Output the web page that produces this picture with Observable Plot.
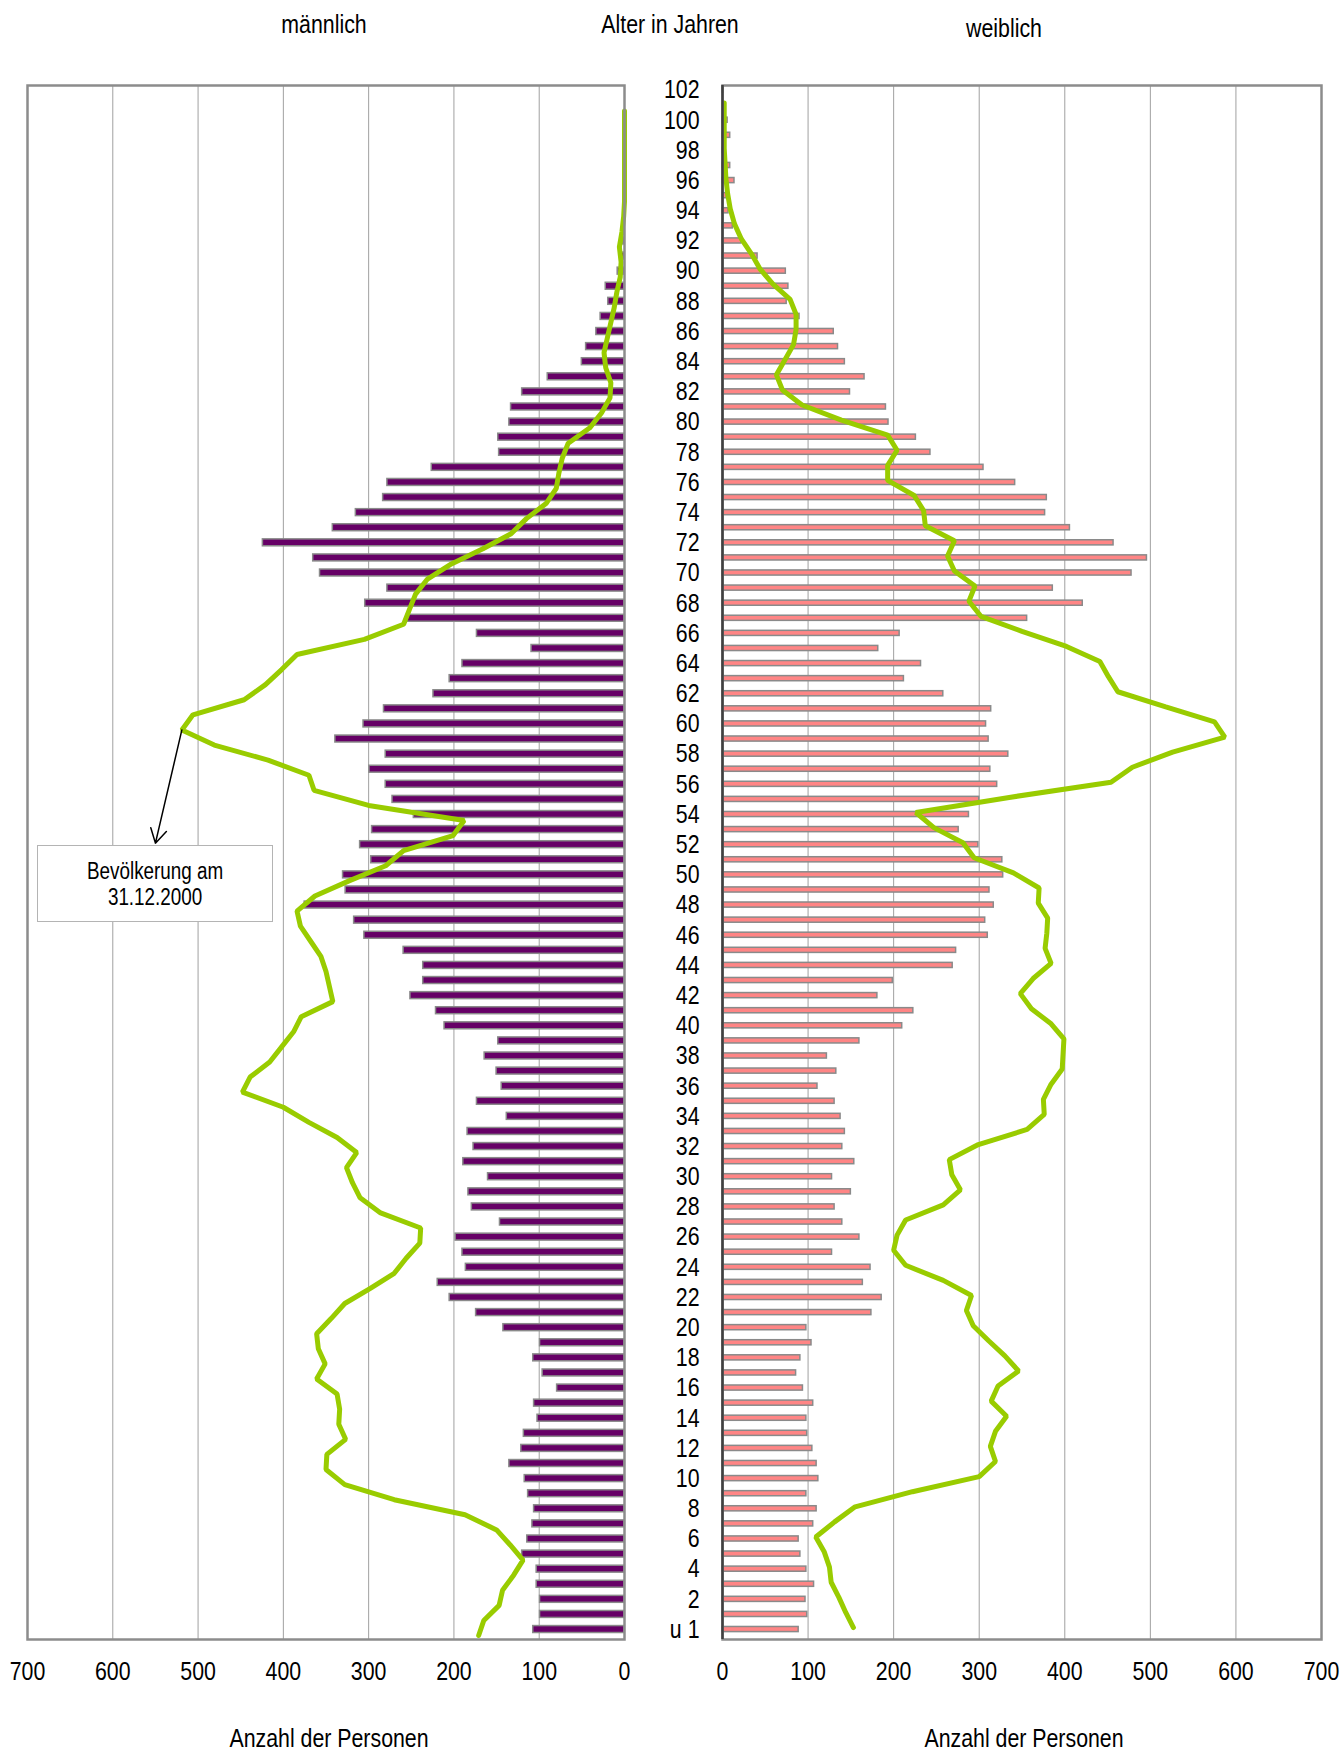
<!DOCTYPE html>
<html><head><meta charset="utf-8">
<script src="https://cdn.jsdelivr.net/npm/d3@7"></script>
<script src="https://cdn.jsdelivr.net/npm/@observablehq/plot@0.6"></script>
<style>
html,body{margin:0;padding:0;background:#fff;}
#wrap{position:relative;width:1344px;height:1752px;overflow:hidden;
  font-family:"Liberation Sans",Arial,sans-serif;color:#000;}
.lbl{position:absolute;font-size:26px;line-height:1;white-space:nowrap;transform:translateX(-50%) scaleX(0.82);}
.plot{position:absolute;top:0;}
#note{position:absolute;left:37px;top:845px;width:236px;height:77px;border:1.5px solid #b4b4b4;background:#fff;
  font-size:23px;line-height:26px;text-align:center;box-sizing:border-box;padding-top:12px;}
#note span{display:inline-block;transform:scaleX(0.82);}
</style></head><body>
<div id="wrap">
  <div class="lbl" style="left:324px;top:11px">männlich</div>
  <div class="lbl" style="left:670px;top:11px">Alter in Jahren</div>
  <div class="lbl" style="left:1004px;top:15px">weiblich</div>
  <div id="left" class="plot" style="left:0px"></div>
  <div id="right" class="plot" style="left:640px"></div>
  <div class="lbl" style="left:329px;top:1725px">Anzahl der Personen</div>
  <div class="lbl" style="left:1024px;top:1725px">Anzahl der Personen</div>
  <div id="note"><span>Bevölkerung am<br>31.12.2000</span></div>
</div>
<script>
// ages 0 ("u 1") .. 102
const ages = d3.range(0, 103);
const ageTicks = d3.range(0, 103, 2);
const countTicks = [0, 100, 200, 300, 400, 500, 600, 700];

// bars: male (index = age)
const male = [107,99,99,103,103,120,114,108,106,113,
  117,135,121,118,102,106,79,96,107,99,
  142,174,205,219,186,190,198,146,179,183,
  160,189,177,184,138,173,144,150,164,148,
  211,221,251,236,236,259,305,317,375,327,
  330,297,310,296,247,272,280,299,280,339,
  306,282,224,205,190,109,173,255,304,278,
  357,365,424,342,315,283,278,226,147,148,
  135,133,120,90,50,45,33,28,19,22,
  8,3,2,1,0,0,0,0,0,0,
  0,0,0];
// bars: female
const female = [89,99,97,107,98,91,89,106,110,98,
  112,110,105,99,98,106,94,86,91,104,
  98,174,186,164,173,128,160,140,131,150,
  128,154,140,143,138,131,111,133,122,160,
  210,223,181,199,269,273,310,307,317,312,
  328,327,299,276,288,300,321,313,334,311,
  308,314,258,212,232,182,207,356,421,386,
  478,496,457,406,377,379,342,305,243,226,
  194,191,149,166,143,135,130,90,75,77,
  74,41,22,12,7,5,14,9,1,9,
  6,0,1];
// line: population on 31.12.2000, male
const maleTotal = [171,165,147,143,130,119,134,150,187,270,
  328,350,349,327,335,334,337,361,351,359,
  361,344,328,298,270,256,240,239,286,310,
  319,326,314,337,370,400,448,439,416,402,
  388,379,342,346,350,356,368,380,384,363,
  323,280,259,201,188,300,364,370,418,481,
  519,506,446,421,402,384,305,259,252,245,
  231,203,166,133,115,92,80,77,73,66,
  41,27,17,16,22,24,20,16,12,9,
  5,4,6,3,1,0,0,0,0,0,
  0,0,null];
// line: population on 31.12.2000, female
const femaleTotal = [153,144,136,127,125,119,109,131,155,222,
  300,319,313,319,332,314,322,346,330,311,
  293,285,291,258,214,200,204,214,258,278,
  268,265,299,356,376,375,384,397,398,399,
  384,361,348,363,384,377,379,380,369,370,
  340,294,281,247,226,335,454,479,526,587,
  575,518,462,451,441,402,350,302,288,295,
  271,263,271,237,235,224,193,193,204,193,
  139,93,70,63,73,83,86,86,79,59,
  44,34,22,14,9,6,4,3,2,2,
  2,2,null];

// annotation: arrow from the male line at age 60 to the note box
const noteAge = 60;
const noteTip = {x: 550, age: 52.5};

const rowsM = ages.map((a, i) => ({age: a, bar: male[i], total: maleTotal[i]}));
const rowsF = ages.map((a, i) => ({age: a, bar: female[i], total: femaleTotal[i]}));

const FONT = '"Liberation Sans",Arial,sans-serif';
const H = 1752, TOP = 85, BOTTOM = 1639;
const yDom = [-0.66, 102.3];

// narrow the axis text in place (the reference uses a condensed face)
function condense(svg, k) {
  svg.querySelectorAll("text").forEach(t => {
    const len = t.getComputedTextLength();
    if (len > 0) {
      t.setAttribute("textLength", (len * k).toFixed(2));
      t.setAttribute("lengthAdjust", "spacingAndGlyphs");
    }
  });
}

const left = Plot.plot({
  width: 660, height: H,
  marginLeft: 27, marginRight: 660 - 624, marginTop: TOP, marginBottom: H - BOTTOM,
  style: {fontFamily: FONT, fontSize: "26px", color: "#000", background: "transparent", overflow: "visible"},
  x: {domain: [0, 700], reverse: true, label: null},
  y: {domain: yDom, axis: null},
  marks: [
    Plot.ruleX(countTicks, {stroke: "#a0a0a0", strokeWidth: 1}),
    Plot.axisX(countTicks, {tickSize: 0, tickPadding: 22, label: null, fontSize: 26}),
    Plot.rectX(rowsM, {x1: 0, x2: "bar", y1: d => d.age - 0.23, y2: d => d.age + 0.23,
      fill: "#660066", stroke: "#8a8a8a", strokeWidth: 1.5}),
    Plot.line(rowsM.filter(d => d.total != null), {x: "total", y: "age", dy: 6,
      stroke: "#99cc00", strokeWidth: 5, strokeLinejoin: "miter"}),
    Plot.arrow([{x1: maleTotal[noteAge], y1: noteAge, x2: noteTip.x, y2: noteTip.age}],
      {x1: "x1", y1: "y1", x2: "x2", y2: "y2", dy: 6, stroke: "#000", strokeWidth: 1.5, headLength: 16}),
    Plot.frame({stroke: "#8c8c8c", strokeWidth: 2.5})
  ]
});
document.getElementById("left").appendChild(left);
condense(left, 0.82);

const right = Plot.plot({
  width: 704, height: H,
  marginLeft: 82, marginRight: 704 - (1321 - 640), marginTop: TOP, marginBottom: H - BOTTOM,
  style: {fontFamily: FONT, fontSize: "26px", color: "#000", background: "transparent", overflow: "visible"},
  x: {domain: [0, 700], label: null},
  y: {domain: yDom, label: null},
  marks: [
    Plot.ruleX(countTicks, {stroke: "#a0a0a0", strokeWidth: 1}),
    Plot.axisX(countTicks, {tickSize: 0, tickPadding: 22, label: null, fontSize: 26}),
    Plot.axisY(ageTicks, {anchor: "left", tickSize: 0, tickPadding: 23, label: null, fontSize: 26,
      tickFormat: d => d === 0 ? "u 1" : String(d)}),
    Plot.rectX(rowsF, {x1: 0, x2: "bar", y1: d => d.age - 0.17, y2: d => d.age + 0.17,
      fill: "#ff8585", stroke: "#8a8a8a", strokeWidth: 1.5}),
    Plot.line(rowsF.filter(d => d.total != null), {x: "total", y: "age", dy: -2,
      stroke: "#99cc00", strokeWidth: 5, strokeLinejoin: "miter"}),
    Plot.frame({stroke: "#8c8c8c", strokeWidth: 2.5}),
    Plot.ruleX([0], {stroke: "#404040", strokeWidth: 2.5})
  ]
});
document.getElementById("right").appendChild(right);
condense(right, 0.82);
</script>
</body></html>
